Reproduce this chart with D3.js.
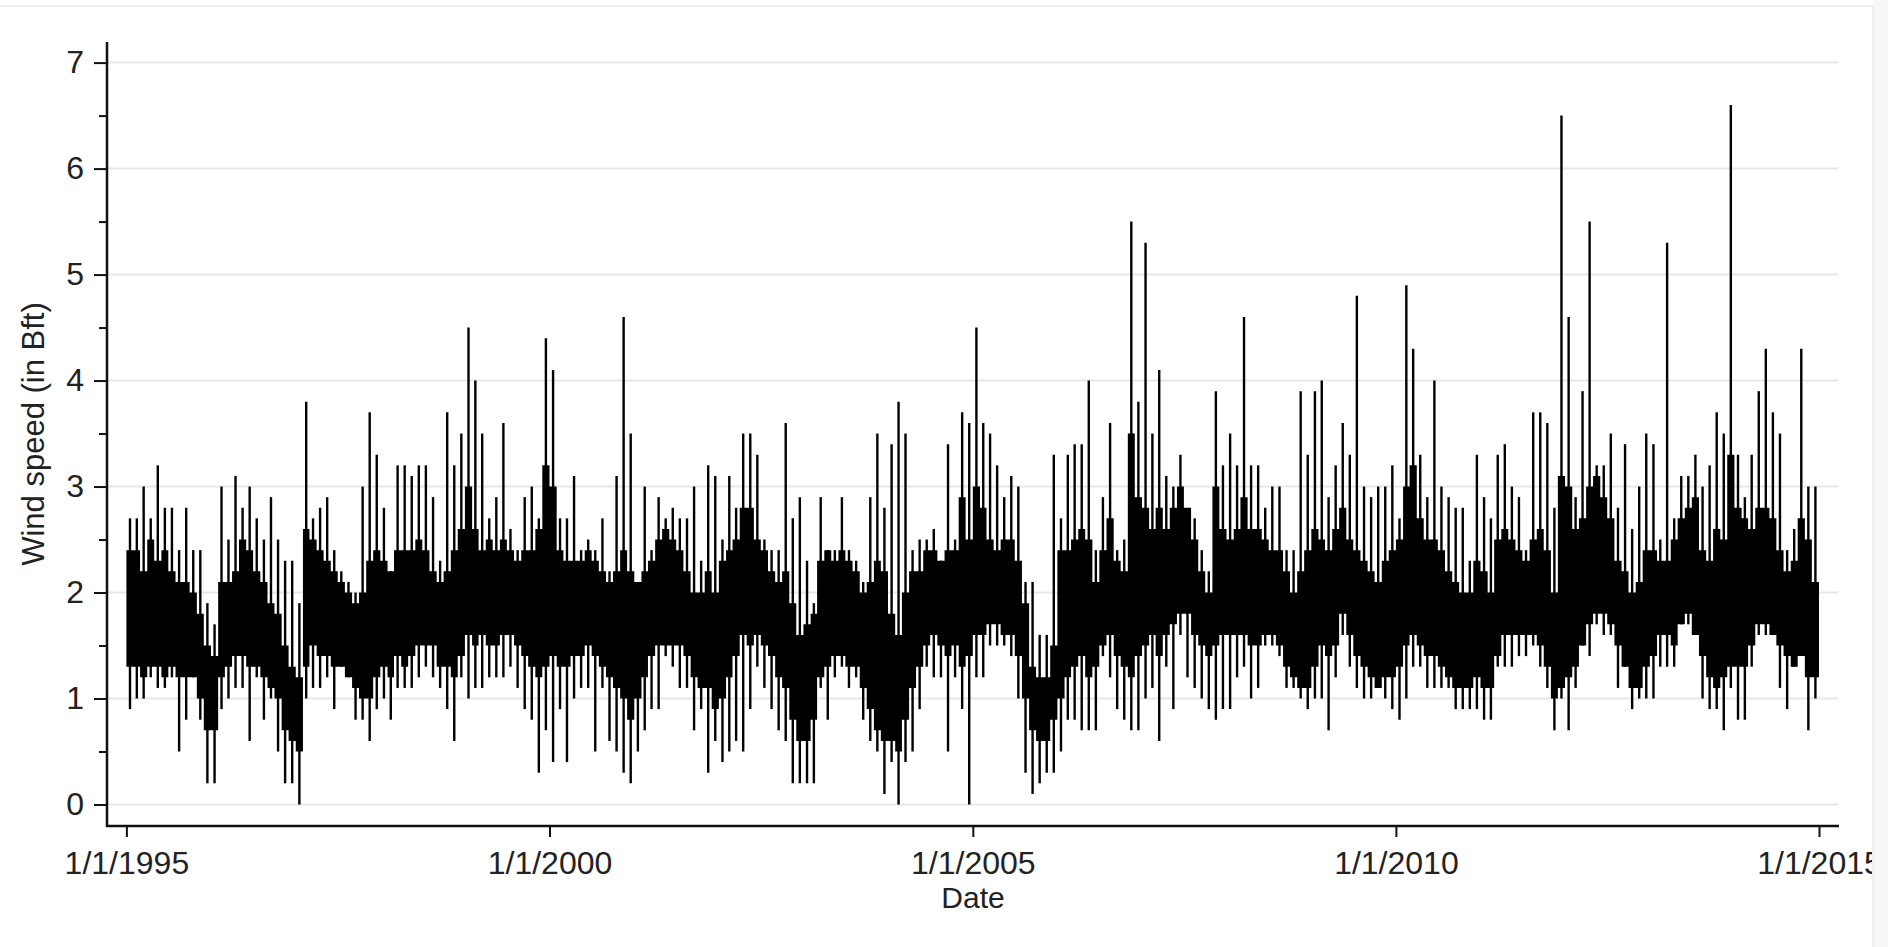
<!DOCTYPE html>
<html>
<head>
<meta charset="utf-8">
<script src="https://cdn.jsdelivr.net/npm/d3@7/dist/d3.min.js"></script>
<style>
  html, body { margin: 0; padding: 0; background: #fff; }
  svg { display: block; font-family: "Liberation Sans", Arial, sans-serif; }
</style>
</head>
<body>
<svg id="chart"></svg>
<script>
// Daily wind speed, summarised per month (Jan 1995 .. Dec 2014), one row per year.
// coreLo/coreHi = the dense part of the band, peakLo/peakHi = the month's extremes.
const coreLo = [
  1.3,1.3,1.2,1.3,1.3,1.2,1.3,1.2,1.2,1.2,1.0,0.7,
  0.7,1.2,1.3,1.4,1.4,1.3,1.3,1.2,1.1,1.0,0.7,0.6,
  0.5,1.3,1.5,1.4,1.4,1.3,1.3,1.2,1.1,1.0,1.0,1.2,
  1.3,1.2,1.4,1.3,1.4,1.5,1.5,1.5,1.3,1.3,1.2,1.4,
  1.6,1.5,1.6,1.5,1.5,1.6,1.6,1.5,1.4,1.3,1.2,1.3,
  1.4,1.3,1.3,1.4,1.4,1.5,1.4,1.3,1.2,1.1,1.0,0.8,
  1.0,1.2,1.4,1.5,1.5,1.5,1.5,1.4,1.2,1.1,1.1,0.9,
  1.0,1.2,1.4,1.6,1.5,1.6,1.5,1.4,1.2,1.1,0.8,0.6,
  0.6,0.8,1.2,1.3,1.4,1.4,1.3,1.3,1.1,0.9,0.7,0.6,
  0.6,0.5,0.8,1.1,1.3,1.5,1.6,1.5,1.4,1.5,1.3,1.4,
  1.6,1.6,1.7,1.7,1.6,1.6,1.4,1.0,0.7,0.6,0.6,0.8,
  1.0,1.2,1.3,1.4,1.2,1.3,1.5,1.6,1.4,1.3,1.2,1.4,
  1.5,1.6,1.4,1.6,1.7,1.8,1.8,1.6,1.5,1.4,1.5,1.6,
  1.6,1.6,1.6,1.5,1.5,1.6,1.6,1.5,1.3,1.2,1.1,1.1,
  1.3,1.5,1.4,1.5,1.8,1.6,1.4,1.3,1.2,1.1,1.2,1.2,
  1.3,1.5,1.6,1.5,1.4,1.4,1.3,1.2,1.1,1.1,1.1,1.2,
  1.1,1.1,1.4,1.6,1.6,1.6,1.6,1.6,1.5,1.3,1.0,1.1,
  1.2,1.3,1.5,1.7,1.8,1.8,1.7,1.5,1.3,1.1,1.1,1.3,
  1.4,1.6,1.6,1.5,1.7,1.8,1.6,1.4,1.2,1.1,1.2,1.3,
  1.3,1.3,1.5,1.7,1.7,1.6,1.5,1.4,1.3,1.4,1.2,1.2
];
const coreHi = [
  2.4,2.4,2.2,2.5,2.3,2.4,2.2,2.1,2.1,2.0,1.8,1.5,
  1.4,2.1,2.1,2.2,2.5,2.4,2.2,2.1,1.9,1.8,1.5,1.3,
  1.2,2.6,2.5,2.4,2.3,2.2,2.1,2.0,1.9,2.0,2.3,2.4,
  2.3,2.2,2.4,2.4,2.4,2.5,2.4,2.2,2.1,2.2,2.4,2.6,
  3.0,2.6,2.4,2.5,2.4,2.5,2.4,2.3,2.4,2.4,2.6,3.2,
  3.0,2.4,2.3,2.3,2.3,2.4,2.3,2.2,2.1,2.2,2.4,2.2,
  2.1,2.2,2.3,2.5,2.6,2.5,2.4,2.2,2.0,2.0,2.2,2.0,
  2.3,2.4,2.5,2.8,2.8,2.5,2.4,2.2,2.1,2.2,1.9,1.6,
  1.7,1.8,2.3,2.4,2.3,2.4,2.3,2.2,2.0,2.1,2.3,2.2,
  1.8,1.6,2.0,2.2,2.2,2.4,2.4,2.3,2.4,2.4,2.9,2.5,
  3.0,2.8,2.5,2.4,2.5,2.5,2.3,1.9,1.3,1.2,1.2,1.5,
  2.4,2.4,2.5,2.6,2.5,2.1,2.4,2.7,2.3,2.2,3.5,2.9,
  2.8,2.6,2.8,2.6,2.8,3.0,2.8,2.5,2.2,2.0,3.0,2.6,
  2.5,2.6,2.9,2.6,2.6,2.5,2.4,2.4,2.2,2.0,2.2,2.4,
  2.6,2.5,2.4,2.6,2.8,2.5,2.4,2.3,2.2,2.1,2.3,2.4,
  2.5,3.0,3.2,2.7,2.5,2.5,2.4,2.2,2.1,2.0,2.0,2.3,
  2.2,2.0,2.5,2.6,2.5,2.4,2.3,2.5,2.6,2.4,2.0,3.1,
  3.0,2.6,2.7,3.0,3.1,2.9,2.7,2.3,2.2,2.0,2.1,2.4,
  2.4,2.3,2.3,2.5,2.7,2.8,2.9,2.4,2.3,2.6,2.5,3.3,
  2.8,2.7,2.6,2.8,2.8,2.7,2.4,2.2,2.3,2.7,2.5,2.1
];
const peakHi = [
  2.7,2.7,3.0,2.7,3.2,2.8,2.8,2.4,2.8,2.4,2.4,1.9,
  1.7,3.0,2.5,3.1,2.8,3.0,2.7,2.5,2.9,2.5,2.3,2.3,
  1.9,3.8,2.7,2.8,2.9,2.4,2.2,2.1,2.0,3.0,3.7,3.3,
  2.8,2.2,3.2,3.2,3.1,3.2,3.2,2.9,2.3,3.7,3.2,3.5,
  4.5,4.0,3.5,2.7,2.9,3.6,2.6,2.4,2.9,3.0,2.7,4.4,
  4.1,2.7,2.7,3.1,2.4,2.5,2.4,2.7,2.2,3.1,4.6,3.5,
  2.1,3.0,2.4,2.9,2.7,2.8,2.7,2.7,3.0,2.3,3.2,3.1,
  2.5,3.1,2.8,3.5,3.5,3.3,2.5,2.4,2.4,3.6,2.7,2.9,
  2.3,1.9,2.9,2.4,2.4,2.9,2.4,2.3,2.1,2.9,3.5,2.8,
  3.4,3.8,3.5,2.4,2.5,2.5,2.6,2.3,3.4,2.5,3.7,3.6,
  4.5,3.6,3.5,3.2,2.9,3.1,3.0,2.1,2.1,1.6,1.6,3.3,
  2.7,3.3,3.4,3.4,4.0,2.4,2.9,3.6,2.4,2.5,5.5,3.8,
  5.3,3.5,4.1,3.1,3.0,3.3,2.7,2.7,2.4,2.2,3.9,3.2,
  3.5,3.2,4.6,3.2,3.2,2.8,3.0,3.0,2.4,2.4,3.9,3.3,
  3.9,4.0,2.9,3.2,3.6,3.3,4.8,3.0,2.9,3.0,3.0,3.2,
  2.7,4.9,4.3,3.3,2.9,4.0,3.0,2.9,2.8,2.8,2.3,3.3,
  2.9,2.7,3.3,3.4,3.0,2.9,2.4,3.7,3.7,3.6,2.8,6.5,
  4.6,2.9,3.9,5.5,3.2,3.2,3.5,2.8,3.4,2.6,3.0,3.5,
  3.4,2.5,5.3,2.7,3.1,3.1,3.3,3.0,3.2,3.7,3.5,6.6,
  3.3,2.9,3.3,3.9,4.3,3.7,3.5,2.4,2.6,4.3,3.0,3.0
];
const peakLo = [
  0.9,1.0,1.0,1.2,1.1,1.1,1.2,0.5,0.8,1.2,0.8,0.2,
  0.2,0.9,1.0,1.1,1.1,0.6,1.2,0.8,1.0,0.5,0.2,0.2,
  0.0,1.0,1.1,1.1,1.2,0.9,1.3,1.2,0.8,0.8,0.6,0.9,
  1.0,0.8,1.1,1.1,1.1,1.2,1.3,1.2,1.1,0.9,0.6,1.2,
  1.0,1.1,1.1,1.2,1.2,1.2,1.3,1.1,0.9,0.8,0.3,0.7,
  0.4,0.9,0.4,1.0,1.1,1.1,0.5,1.1,0.6,0.5,0.3,0.2,
  0.5,0.7,0.9,0.9,1.4,1.3,1.1,1.1,0.7,0.9,0.3,0.6,
  0.4,0.5,0.6,0.5,0.9,1.3,1.1,0.9,0.7,0.6,0.2,0.2,
  0.2,0.2,1.1,0.8,1.2,1.3,1.1,1.2,0.8,0.6,0.5,0.1,
  0.4,0.0,0.4,0.5,0.9,1.3,1.2,1.2,0.5,1.2,0.9,0.0,
  1.2,1.2,1.5,1.5,1.5,1.4,1.0,0.3,0.1,0.2,0.3,0.3,
  0.5,0.8,0.8,0.7,0.7,0.7,1.4,1.2,0.9,0.8,0.7,0.7,
  1.0,1.1,0.6,1.3,0.9,1.6,1.2,1.1,1.0,0.9,0.8,0.9,
  0.9,1.2,1.3,1.0,1.1,1.5,1.5,1.4,1.1,1.1,1.0,0.9,
  1.0,1.0,0.7,1.2,1.6,1.3,1.1,1.0,1.0,1.1,1.0,0.9,
  0.8,1.0,1.3,1.3,1.1,1.1,1.1,1.1,0.9,0.9,0.9,0.9,
  0.8,0.8,1.3,1.3,1.3,1.4,1.4,1.5,1.3,1.1,0.7,1.0,
  0.7,1.1,1.5,1.4,1.7,1.6,1.6,1.1,1.3,0.9,1.0,1.0,
  1.0,1.3,1.3,1.3,1.7,1.7,1.6,1.0,0.9,0.9,0.7,1.1,
  0.8,0.8,1.3,1.6,1.6,1.6,1.1,0.9,1.3,1.5,0.7,1.0
];

const yTicks = [0, 1, 2, 3, 4, 5, 6, 7];
const yMinorTicks = [0.5, 1.5, 2.5, 3.5, 4.5, 5.5, 6.5];
const xTickYears = [1995, 2000, 2005, 2010, 2015];
const xTickLabels = ['1/1/1995', '1/1/2000', '1/1/2005', '1/1/2010', '1/1/2015'];

const width = 1888, height = 947;
const plot = { left: 107, right: 1839, top: 42, bottom: 826 };

const svg = d3.select('#chart')
  .attr('width', width)
  .attr('height', height)
  .attr('viewBox', `0 0 ${width} ${height}`);

svg.append('rect').attr('width', width).attr('height', height).attr('fill', '#fff');

const start = new Date(1995, 0, 1), end = new Date(2015, 0, 1);
const months = d3.timeMonth.range(start, end);

const x = d3.scaleTime().domain([start, end]).range([126.4, 1819]);
const y = d3.scaleLinear().domain([0, 7]).range([804.5, 62.6]);

// Grid
svg.append('g')
  .selectAll('line')
  .data(yTicks)
  .join('line')
  .attr('x1', plot.left).attr('x2', plot.right - 1)
  .attr('y1', d => y(d)).attr('y2', d => y(d))
  .attr('stroke', '#e7e7e7')
  .attr('stroke-width', 2);

// Band: dense core of the series
const band = months.map((d, i) => ({ date: d, lo: coreLo[i], hi: coreHi[i] }));
band.push({ date: end, lo: coreLo[coreLo.length - 1], hi: coreHi[coreHi.length - 1] });

const area = d3.area()
  .x(d => x(d.date))
  .y0(d => y(d.lo))
  .y1(d => y(d.hi))
  .curve(d3.curveStepAfter);

svg.append('path')
  .datum(band)
  .attr('fill', '#000')
  .attr('d', area);

// Extremes of each month as thin vertical strokes
const mid = d => new Date((d.getTime() + d3.timeMonth.offset(d, 1).getTime()) / 2);

svg.append('g')
  .selectAll('line')
  .data(months)
  .join('line')
  .attr('x1', d => x(mid(d))).attr('x2', d => x(mid(d)))
  .attr('y1', (d, i) => y(peakLo[i]))
  .attr('y2', (d, i) => y(peakHi[i]))
  .attr('stroke', '#000')
  .attr('stroke-width', 2.4);

// Y axis
const yAxis = svg.append('g').attr('transform', `translate(${plot.left},0)`);
yAxis.call(d3.axisLeft(y).tickValues(yTicks).tickSize(13).tickPadding(10).tickFormat(d3.format('d')));
yAxis.select('.domain').remove();
yAxis.selectAll('line').attr('stroke', '#111').attr('stroke-width', 2);
yAxis.selectAll('text')
  .attr('font-size', 32)
  .attr('font-family', '"Liberation Sans", Arial, sans-serif')
  .attr('fill', '#222');

const yMinor = svg.append('g').attr('transform', `translate(${plot.left},0)`);
yMinor.call(d3.axisLeft(y).tickValues(yMinorTicks).tickSize(8).tickFormat(''));
yMinor.select('.domain').remove();
yMinor.selectAll('line').attr('stroke', '#111').attr('stroke-width', 2);

svg.append('line')
  .attr('x1', plot.left).attr('x2', plot.left)
  .attr('y1', plot.top).attr('y2', plot.bottom + 1)
  .attr('stroke', '#111').attr('stroke-width', 2.5);

// X axis
const xAxis = svg.append('g').attr('transform', `translate(0,${plot.bottom})`);
xAxis.call(d3.axisBottom(x)
  .tickValues(xTickYears.map(yr => new Date(yr, 0, 1)))
  .tickSize(11)
  .tickFormat((d, i) => xTickLabels[i]));
xAxis.select('.domain').remove();
xAxis.selectAll('line').attr('stroke', '#111').attr('stroke-width', 2);
xAxis.selectAll('text')
  .attr('y', 48)
  .attr('dy', null)
  .attr('font-size', 32)
  .attr('font-family', '"Liberation Sans", Arial, sans-serif')
  .attr('fill', '#222');

svg.append('line')
  .attr('x1', plot.left - 1).attr('x2', plot.right)
  .attr('y1', plot.bottom).attr('y2', plot.bottom)
  .attr('stroke', '#111').attr('stroke-width', 2.5);

// Titles
svg.append('text')
  .attr('x', (plot.left + plot.right) / 2)
  .attr('y', 908)
  .attr('text-anchor', 'middle')
  .attr('font-size', 30)
  .attr('fill', '#222')
  .text('Date');

svg.append('text')
  .attr('transform', `translate(44,${(plot.top + plot.bottom) / 2}) rotate(-90)`)
  .attr('text-anchor', 'middle')
  .attr('font-size', 31)
  .attr('fill', '#222')
  .text('Wind speed (in Bft)');

// Faint frame of the original image
svg.append('rect')
  .attr('x', 1873).attr('y', 0).attr('width', width - 1873).attr('height', height)
  .attr('fill', '#f6f6f6');
svg.append('line')
  .attr('x1', 0).attr('x2', 1873).attr('y1', 6).attr('y2', 6)
  .attr('stroke', '#eeeeee').attr('stroke-width', 2);
svg.append('line')
  .attr('x1', 1873).attr('x2', 1873).attr('y1', 6).attr('y2', height)
  .attr('stroke', '#eeeeee').attr('stroke-width', 2);
</script>
</body>
</html>
